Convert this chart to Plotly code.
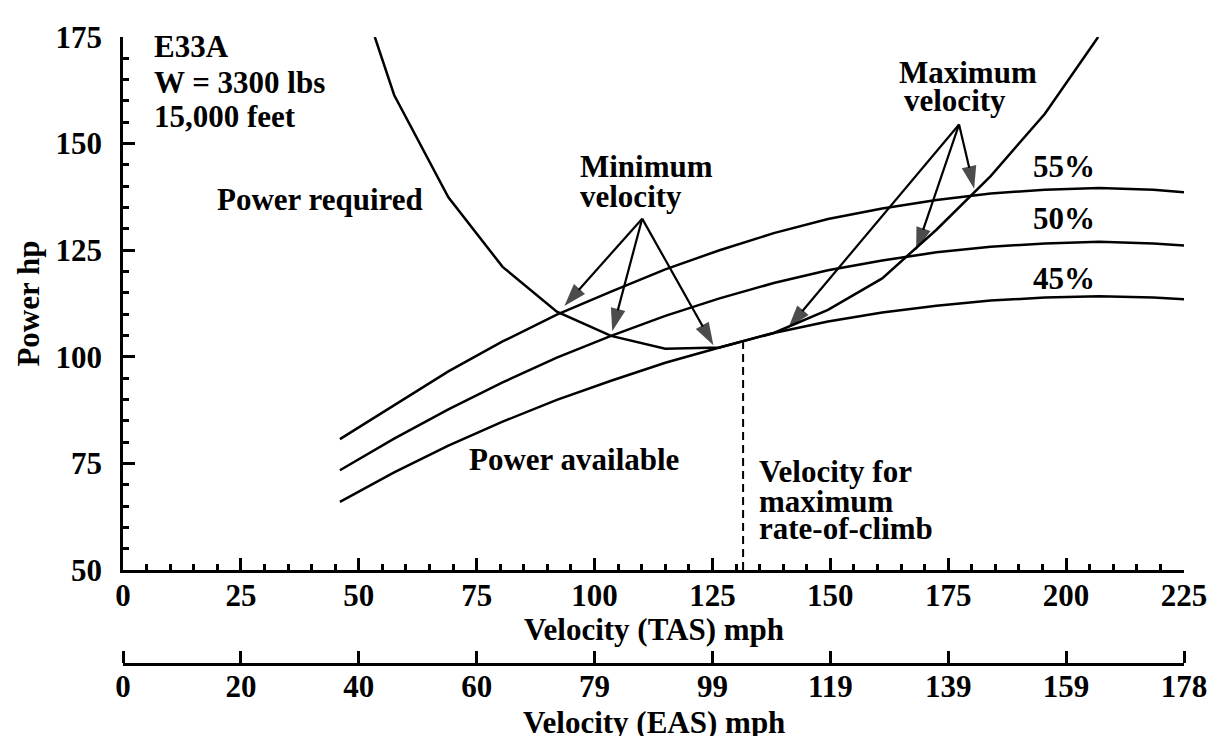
import numpy as np
import plotly.graph_objects as go

# ---------------- data ----------------
V_TAS = [46, 57.5, 69, 80.5, 92, 103.5, 115, 126.5, 138, 149.5, 161, 172.5, 184, 195.5, 207, 218.5, 225]
P_AVAIL_55 = [80.7, 88.6, 96.6, 103.6, 109.9, 115.3, 120.5, 125.0, 129.0, 132.3, 134.8, 136.8, 138.3, 139.2, 139.6, 139.2, 138.6]
P_AVAIL_50 = [73.4, 80.8, 87.7, 94.0, 99.8, 104.9, 109.6, 113.7, 117.3, 120.3, 122.6, 124.5, 125.8, 126.6, 127.0, 126.6, 126.1]
P_AVAIL_45 = [66.0, 72.9, 79.2, 84.8, 89.9, 94.4, 98.6, 102.2, 105.6, 108.3, 110.4, 112.0, 113.2, 113.9, 114.2, 113.9, 113.5]

V_REQ = [53.4, 57.5, 69, 80.5, 92, 103.5, 115, 126.5, 138, 149.5, 161, 172.5, 184, 195.5, 206.8]
P_REQ = [175, 161.4, 137.4, 121.1, 110.6, 104.9, 101.9, 102.2, 105.6, 111.0, 118.4, 129.8, 142.4, 157.0, 175]

V_MAX_ROC = 131.5

TAS_TICKS = [0, 25, 50, 75, 100, 125, 150, 175, 200, 225]
EAS_LABELS = ["0", "20", "40", "60", "79", "99", "119", "139", "159", "178"]
P_TICKS = [50, 75, 100, 125, 150, 175]

# ---------------- style ----------------
FONT = "Liberation Serif"
FS = 31
LW = 2.5
BLACK = "black"

fig = go.Figure()

for p in (P_AVAIL_55, P_AVAIL_50, P_AVAIL_45):
    fig.add_trace(go.Scatter(x=V_TAS, y=p, mode="lines",
                             line=dict(color=BLACK, width=LW), hoverinfo="skip"))

fig.add_trace(go.Scatter(x=V_REQ, y=P_REQ, mode="lines",
                         line=dict(color=BLACK, width=LW), hoverinfo="skip"))

p_roc = float(np.interp(V_MAX_ROC, V_TAS, P_AVAIL_45))
fig.add_trace(go.Scatter(x=[V_MAX_ROC, V_MAX_ROC], y=[P_TICKS[0], p_roc], mode="lines",
                         line=dict(color=BLACK, width=2, dash="8px,5px"), hoverinfo="skip"))

# arrows (annotation pointers)
MIN_ORIGIN = (110.1, 132.4)
MIN_TIPS = [(93.6, 111.9), (103.75, 106.0), (125.2, 102.7)]
MAX_ORIGIN = (177.3, 154.5)
MAX_TIPS = [(141.1, 106.8), (168.2, 125.0), (180.5, 139.4)]
for origin, tips in ((MIN_ORIGIN, MIN_TIPS), (MAX_ORIGIN, MAX_TIPS)):
    for tip in tips:
        fig.add_trace(go.Scatter(
            x=[origin[0], tip[0]], y=[origin[1], tip[1]], mode="lines+markers",
            line=dict(color=BLACK, width=2.2),
            marker=dict(symbol="arrow", size=[0, 24], angleref="previous", color=BLACK,
                        line=dict(width=0)),
            hoverinfo="skip", cliponaxis=False))

# dummy traces so the EAS scale axes are drawn
for ax_name in ("x2", "x3"):
    fig.add_trace(go.Scatter(x=[TAS_TICKS[0], TAS_TICKS[-1]], y=[None, None], xaxis=ax_name,
                             mode="lines", showlegend=False, hoverinfo="skip"))

tfont = dict(family=FONT, size=FS, color=BLACK, weight="bold")

def txt(text, x, y, xanchor="left", yanchor="middle", **kw):
    return dict(text=text, x=x, y=y, xref=kw.pop("xref", "x"), yref=kw.pop("yref", "y"),
                xanchor=xanchor, yanchor=yanchor, showarrow=False, font=tfont, **kw)

annotations = [
    txt("E33A", 6.07, 172.7),
    txt("W = 3300 lbs", 6.07, 164.3),
    txt("15,000 feet", 6.07, 156.4),
    txt("Power required", 41.7, 136.8, xanchor="center"),
    txt("Minimum", 96.4, 144.6),
    txt("velocity", 96.4, 137.7),
    txt("Maximum", 164.2, 166.7),
    txt("velocity", 165.3, 160.1),
    txt("55%", 199.6, 144.6, xanchor="center"),
    txt("50%", 199.6, 132.4, xanchor="center"),
    txt("45%", 199.6, 118.4, xanchor="center"),
    txt("Power available", 72.9, 75.9),
    txt("Velocity for", 134.5, 73.1),
    txt("maximum", 134.5, 66.1),
    txt("rate-of-climb", 134.5, 59.8),
    txt("Power hp", -0.0895, 0.5749, xanchor="center", xref="paper", yref="paper", textangle=-90),
    txt("Velocity (TAS) mph", 0.5, 0.0554, xanchor="center", xref="paper", yref="paper"),
    txt("Velocity (EAS) mph", 0.5, -0.0935, xanchor="center", xref="paper", yref="paper"),
]

# page body has an 8px margin: shrink figure so the plot lands where the reference has it
W, H, OFF = 1219, 736, 8
plot_top, plot_bottom, axis_y = 32 - OFF, 664 - OFF, 569.3 - OFF
y_dom_bottom = (plot_bottom - axis_y) / (plot_bottom - plot_top)

axis_common = dict(showgrid=False, zeroline=False, showline=True, linecolor=BLACK,
                   linewidth=LW, ticklen=12, tickwidth=LW, tickcolor=BLACK,
                   tickfont=tfont)

fig.update_layout(
    width=W - OFF, height=H - OFF,
    margin=dict(l=123 - OFF, r=34, t=plot_top, b=(H - OFF) - plot_bottom),
    paper_bgcolor="white", plot_bgcolor="rgba(0,0,0,0)",
    showlegend=False,
    font=dict(family=FONT, color=BLACK),
    xaxis=dict(range=[TAS_TICKS[0], TAS_TICKS[-1]], tickvals=TAS_TICKS, anchor="y", ticks="inside",
               minor=dict(ticks="inside", ticklen=6, tickwidth=LW, dtick=5, tickcolor=BLACK, showgrid=False),
               ticklabelstandoff=-4, **axis_common),
    # EAS scale: line with upward ticks at the bottom of the paper area
    xaxis2=dict(range=[TAS_TICKS[0], TAS_TICKS[-1]], tickvals=TAS_TICKS, overlaying="x",
                anchor="free", position=0, side="top", ticks="outside",
                showticklabels=False, **axis_common),
    # EAS labels below that line
    xaxis3=dict(range=[TAS_TICKS[0], TAS_TICKS[-1]], tickvals=TAS_TICKS, ticktext=EAS_LABELS,
                overlaying="x", anchor="free", position=0, side="bottom", ticks="",
                showline=False, showgrid=False, zeroline=False, tickfont=tfont,
                ticklabelstandoff=1),
    yaxis=dict(range=[P_TICKS[0], P_TICKS[-1]], tickvals=P_TICKS, domain=[y_dom_bottom, 1], ticks="inside",
               minor=dict(ticks="inside", ticklen=6, tickwidth=LW, dtick=5, tickcolor=BLACK, showgrid=False),
               ticklabelstandoff=12, **axis_common),
    annotations=annotations,
)

fig.write_html("out.html")
